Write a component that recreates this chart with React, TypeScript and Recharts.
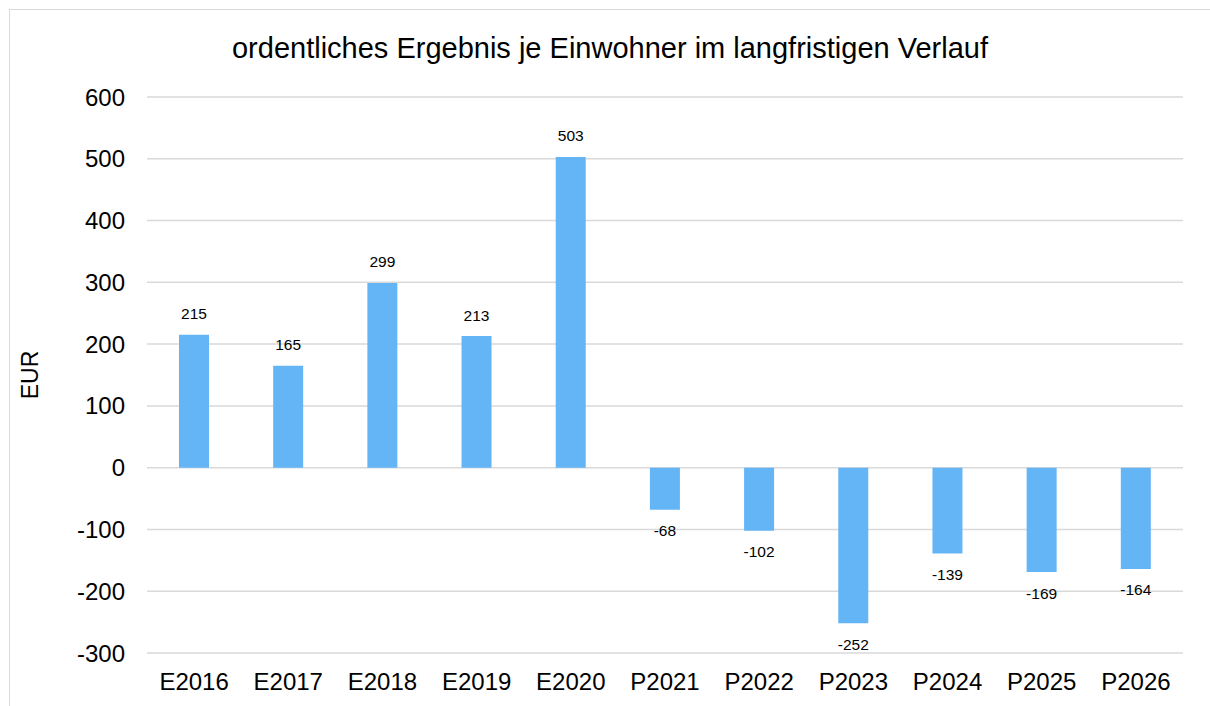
import React from 'react';
import { BarChart, Bar, XAxis, YAxis, CartesianGrid, LabelList } from 'recharts';

const categories = ['E2016', 'E2017', 'E2018', 'E2019', 'E2020', 'P2021', 'P2022', 'P2023', 'P2024', 'P2025', 'P2026'];
const values = [215, 165, 299, 213, 503, -68, -102, -252, -139, -169, -164];
const yTicks = [-300, -200, -100, 0, 100, 200, 300, 400, 500, 600];

const data = categories.map((name, i) => ({ name, value: values[i] }));

const FONT = '"Liberation Sans", Arial, sans-serif';

// label above positive bars, below negative ones
const renderValueLabel = (props: any) => {
  const { x, y, width, height, value } = props;
  const top = Math.min(y, y + height);
  const bottom = Math.max(y, y + height);
  const ly = value >= 0 ? top - 21 : bottom + 21;
  return (
    <text
      x={x + width / 2}
      y={ly}
      textAnchor="middle"
      dominantBaseline="central"
      fontSize={15.5}
      fontFamily={FONT}
      fill="#000"
    >
      {value}
    </text>
  );
};

export default function App() {
  return (
    <div style={{ position: 'fixed', left: 0, top: 0, width: 1210, height: 706, background: '#fff', overflow: 'hidden' }}>
      {/* frame, only left/top edges are visible */}
      <div
        style={{
          position: 'absolute', left: 9, top: 9, width: 1400, height: 900,
          borderLeft: '1.5px solid #d9d9d9', borderTop: '1.5px solid #d9d9d9',
        }}
      />

      {/* title */}
      <div
        style={{
          position: 'absolute', left: 0, top: 29, width: 1220, textAlign: 'center',
          fontFamily: FONT, fontSize: 29, color: '#000', lineHeight: '38px',
        }}
      >
        ordentliches Ergebnis je Einwohner im langfristigen Verlauf
      </div>

      {/* y axis title */}
      <div
        style={{
          position: 'absolute', left: 30, top: 375, fontFamily: FONT, fontSize: 23, color: '#000',
          transform: 'translate(-50%, -50%) rotate(-90deg)', whiteSpace: 'nowrap',
        }}
      >
        EUR
      </div>

      <div style={{ position: 'absolute', left: 0, top: 0 }}>
        <BarChart width={1210} height={706} data={data} margin={{ top: 97, right: 27, bottom: 13, left: 0 }} barSize={30}>
          <CartesianGrid vertical={false} stroke="#d9d9d9" strokeWidth={1.5} />
          <XAxis
            dataKey="name"
            axisLine={false}
            tickLine={false}
            height={40}
            tickMargin={14}
            tick={{ fontSize: 24, fill: '#000', fontFamily: FONT }}
            interval={0}
          />
          <YAxis
            domain={[-300, 600]}
            ticks={yTicks}
            axisLine={false}
            tickLine={false}
            width={147}
            tickMargin={16}
            tick={{ fontSize: 24, fill: '#000', fontFamily: FONT }}
          />
          <Bar dataKey="value" fill="#64b5f6" isAnimationActive={false}>
            <LabelList dataKey="value" content={renderValueLabel} />
          </Bar>
        </BarChart>
      </div>
    </div>
  );
}
